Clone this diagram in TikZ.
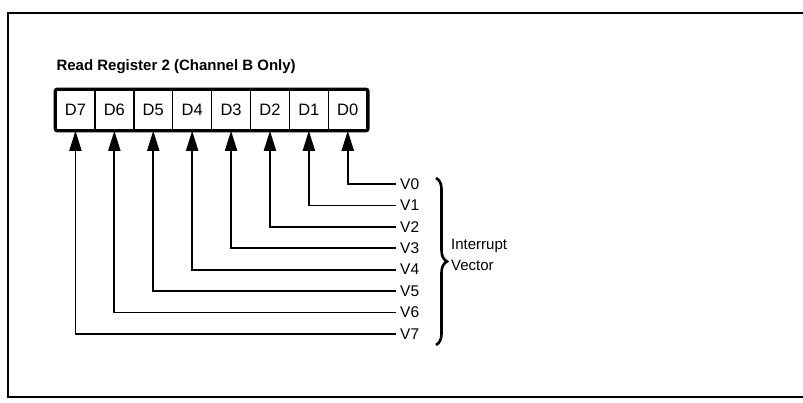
\documentclass[tikz,border=0pt]{standalone}
\usepackage{fontspec}
\setmainfont{Liberation Sans}
\usetikzlibrary{arrows.meta, positioning, decorations.pathreplacing}

\begin{document}
\begin{tikzpicture}[x=1pt, y=-1pt, >={Triangle[length=20pt,width=12pt]},
    cell/.style={draw, line width=1.5pt, minimum width=38.9pt, minimum height=40pt, inner sep=0pt, font=\fontsize{16.5}{18}\selectfont},
    vlab/.style={anchor=west, inner ysep=2pt, inner xsep=4pt, font=\fontsize{15.5}{17}\selectfont},
    wire/.style={line width=1.8pt}]
    \useasboundingbox (0,0) rectangle (803,402);
    % frame
    \draw[line width=2pt] (803,13) -- (8,13) -- (8,397) -- (803,397);
    \node[anchor=west, font=\bfseries\fontsize{15}{17}\selectfont] (title) at (53,67) {Read Register 2 (Channel B Only)};
    % register bits
    \foreach \k in {0,...,7} {
      \pgfmathtruncatemacro{\bit}{7-\k}
      \node[cell] (d\bit) at ({56+38.9*(\k+0.5)},110) {D\bit};
    }
    \draw[line width=3.2pt, rounded corners=2pt] (d7.north west) rectangle (d0.south east);
    % vector lines
    \foreach \i in {0,...,7} {
      \node[vlab] (v\i) at (396,{184+21.4*\i}) {V\i};
      \draw[wire,->] (v\i.west) -| (d\i.south);
    }
    \draw[line width=2.6pt, decorate, decoration={brace, amplitude=11pt}] (436,178) -- (436,345);
    \node[anchor=west, align=left, inner sep=0pt, font=\fontsize{15}{21}\selectfont] (intvec) at (451,255) {Interrupt\\Vector};
\end{tikzpicture}
\end{document}
